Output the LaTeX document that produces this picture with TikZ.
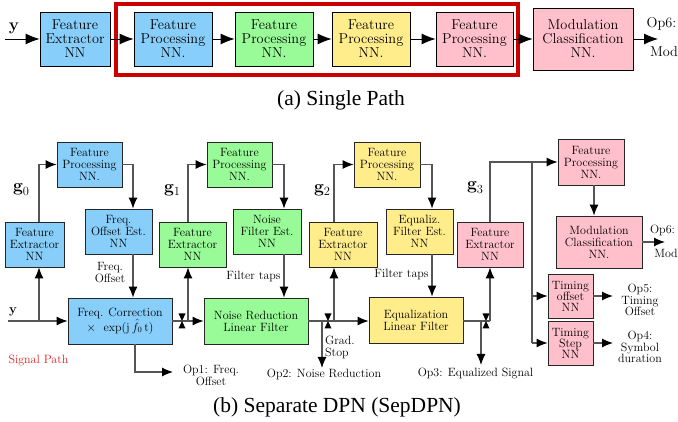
\documentclass[tikz,border=0pt]{standalone}
\usepackage{fontspec}
\newfontfamily\capfont{Liberation Serif}
\usetikzlibrary{arrows.meta,calc}
\definecolor{cblue}{RGB}{135,206,250}
\definecolor{cgreen}{RGB}{152,251,152}
\definecolor{cyell}{RGB}{255,236,139}
\definecolor{cpink}{RGB}{255,192,203}
\definecolor{cred}{RGB}{204,0,0}
\definecolor{sigred}{RGB}{225,30,30}
\definecolor{lgray}{RGB}{85,85,85}
\newcommand\gsub[1]{{\bfseries g}\raisebox{-0.22em}{\fontsize{12.5}{12.5}\selectfont #1}}
\begin{document}
\begin{tikzpicture}[x=1pt,y=-1pt,
 tbox/.style={draw=black, line width=0.8pt, inner sep=0pt, align=center, font=\fontsize{14.3}{14}\selectfont, minimum height=54pt},
 bbox/.style={draw=black!85, line width=0.8pt, inner sep=0pt, align=center, font=\fontsize{12}{12}\selectfont, minimum height=45pt},
 tarr/.style={draw=black, line width=0.8pt, -{Latex[length=14pt,width=11pt]}},
 barr/.style={draw=lgray, line width=1.1pt, -{Latex[length=11pt,width=9pt,color=black]}},
 bline/.style={draw=lgray, line width=1.1pt},
 lbl/.style={inner sep=0pt, align=center, font=\fontsize{12}{11.5}\selectfont},
 tlbl/.style={inner sep=0pt, align=center, font=\fontsize{14.3}{14}\selectfont},
 glbl/.style={inner sep=0pt, font=\fontsize{17.5}{17.5}\selectfont},
 captxt/.style={inner sep=0pt, font=\capfont\fontsize{21.5}{24}\selectfont},
 gstop/.pic={\fill[black] (-3.5,-7.5) -- (3.5,-7.5) -- (0,0) -- cycle;
             \fill[black] (-3.5,7.5) -- (3.5,7.5) -- (0,0) -- cycle;}
]
\useasboundingbox (0,0) rectangle (678,422);

% ---------- (a) Single path ----------
\node[tbox, fill=cblue, minimum width=70pt] (tFE) at (75,39) {Feature\\Extractor\\NN};
\node[tbox, fill=cblue, minimum width=78pt] (tP1) at (173,39) {Feature\\Processing\\NN.};
\node[tbox, fill=cgreen, minimum width=78pt] (tP2) at (274,39) {Feature\\Processing\\NN.};
\node[tbox, fill=cyell, minimum width=78pt] (tP3) at (371,39) {Feature\\Processing\\NN.};
\node[tbox, fill=cpink, minimum width=77pt] (tP4) at (474.5,39) {Feature\\Processing\\NN.};
\node[tbox, fill=cpink, minimum width=100pt, minimum height=62pt] (tMC) at (583,39) {Modulation\\Classification\\NN.};
\draw[cred, line width=4pt] (116,3.7) rectangle (517.5,75);
\coordinate (tin) at (5,39);
\coordinate (tout) at (658,39);
\node[inner sep=0pt, font=\fontsize{17}{17}\selectfont\bfseries] (ty) at (14,28) {y};
\draw[tarr] (tin) -- (tFE);
\draw[tarr] (tFE) -- (tP1);
\draw[tarr] (tP1) -- (tP2);
\draw[tarr] (tP2) -- (tP3);
\draw[tarr] (tP3) -- (tP4);
\draw[tarr] (tP4) -- (tMC);
\draw[tarr] (tMC) -- (tout);
\node[tlbl] (top6) at (661.5,24) {Op6:};
\node[tlbl] (tmod) at (664,52) {Mod};
\node[captxt] (capa) at (341,100) {(a) Single Path};

% ---------- (b) SepDPN ----------
\node[bbox, fill=cblue, minimum width=59pt] (FE0) at (34.5,244.5) {Feature\\Extractor\\NN};
\node[bbox, fill=cblue, minimum width=65pt] (FP0) at (89.5,164.5) {Feature\\Processing\\NN.};
\node[bbox, fill=cblue, minimum width=67pt] (FOE) at (118.5,231.5) {Freq.\\Offset Est.\\NN};
\node[bbox, fill=cblue, minimum width=104pt, minimum height=46pt] (FC) at (120,321) {Freq. Correction\\$\times$\ \ exp(j\,$\hat{f}_0$\,t)};

\node[bbox, fill=cgreen, minimum width=67pt] (FE1) at (192.5,244.5) {Feature\\Extractor\\NN};
\node[bbox, fill=cgreen, minimum width=65pt] (FP1) at (239.5,164.5) {Feature\\Processing\\NN.};
\node[bbox, fill=cgreen, minimum width=68pt] (NFE) at (267,231.5) {Noise\\Filter Est.\\NN};
\node[bbox, fill=cgreen, minimum width=104pt, minimum height=46pt] (NRLF) at (256,321) {Noise Reduction\\Linear Filter};

\node[bbox, fill=cyell, minimum width=68pt] (FE2) at (343,244.5) {Feature\\Extractor\\NN};
\node[bbox, fill=cyell, minimum width=66pt] (FP2) at (387,164.5) {Feature\\Processing\\NN.};
\node[bbox, fill=cyell, minimum width=67pt] (EFE) at (419.5,231.5) {Equaliz.\\Filter Est.\\NN};
\node[bbox, fill=cyell, minimum width=94pt, minimum height=46pt] (ELF) at (416,320) {Equalization\\Linear Filter};

\node[bbox, fill=cpink, minimum width=66pt] (FE3) at (490,244.5) {Feature\\Extractor\\NN};
\node[bbox, fill=cpink, minimum width=66pt, minimum height=46pt] (FP3) at (591,162) {Feature\\Processing\\NN.};
\node[bbox, fill=cpink, minimum width=86pt, minimum height=52pt] (MC) at (599,242) {Modulation\\Classification\\NN.};
\node[bbox, fill=cpink, minimum width=45pt, minimum height=44pt, font=\fontsize{12}{11}\selectfont] (TO) at (570.5,296) {Timing\\offset\\NN};
\node[bbox, fill=cpink, minimum width=45pt, minimum height=44pt, font=\fontsize{12}{11}\selectfont] (TS) at (570.5,343) {Timing\\Step\\NN};

% labels
\node[glbl] (g0) at (21,190) {\gsub{0}};
\node[glbl] (g1) at (172,190) {\gsub{1}};
\node[glbl] (g2) at (322,190) {\gsub{2}};
\node[glbl] (g3) at (475,188) {\gsub{3}};
\node[inner sep=0pt, font=\fontsize{13}{13}\selectfont\bfseries] (by) at (13,312) {y};
\node[lbl, text=sigred] (sp) at (38.5,361) {Signal Path};
\node[lbl] (fo) at (110,272.5) {Freq.\\Offset};
\node[lbl] (ft1) at (253.5,277) {Filter taps};
\node[lbl] (ft2) at (401.5,275) {Filter taps};
\node[lbl] (op1) at (211,375.5) {Op1: Freq.\\Offset};
\node[lbl] (op2) at (324,374) {Op2: Noise Reduction};
\node[lbl] (op3) at (475.5,374) {Op3: Equalized Signal};
\node[lbl, anchor=west, align=left] (gs) at (325,347.5) {Grad.\\Stop};
\node[lbl] (op6) at (662.5,230) {Op6:};
\node[lbl] (mod) at (666,253) {Mod};
\node[lbl] (op5) at (640,300) {Op5:\\Timing\\Offset};
\node[lbl] (op4) at (640,347) {Op4:\\Symbol\\duration};
\node[captxt] (capb) at (337,407) {(b) Separate DPN (SepDPN)};

% coordinates
\coordinate (yin) at (8,321);
\coordinate (j0) at (39,321);
\coordinate (c0) at (133,0);
\coordinate (o1) at (135,0);
\coordinate (op1e) at (173,372);
\coordinate (j1) at (188,321);
\coordinate (c1) at (284,0);
\coordinate (d2) at (322,321);
\coordinate (op2e) at (322,368);
\coordinate (j2) at (334,321);
\coordinate (c2) at (432,0);
\coordinate (d3) at (481,321);
\coordinate (op3e) at (481,365);
\coordinate (j3) at (490,321);
\coordinate (k) at (532,0);
\coordinate (c4) at (594,0);
\coordinate (mcout) at (665,242);
\coordinate (toout) at (613,296);
\coordinate (tsout) at (613,343);

% connectors
\draw[barr] (yin) -- (FC.west);
\draw[barr] (j0) -- (j0 |- FE0.south);
\draw[barr] (j0 |- FE0.north) |- (FP0.west);
\draw[barr] (FP0.east) -| (c0 |- FOE.north);
\draw[barr] (c0 |- FOE.south) -- (c0 |- FC.north);
\draw[barr] (o1 |- FC.south) |- (op1e);
\draw[barr] (FC) -- (NRLF);
\pic at (182,321) {gstop};
\draw[barr] (j1) -- (j1 |- FE1.south);
\draw[barr] (j1 |- FE1.north) |- (FP1.west);
\draw[barr] (FP1.east) -| (c1 |- NFE.north);
\draw[barr] (c1 |- NFE.south) -- (c1 |- NRLF.north);
\draw[barr] (NRLF.east) -- (NRLF.east -| ELF.west);
\draw[barr] (d2) -- (op2e);
\pic at (328,321) {gstop};
\draw[barr] (j2) -- (j2 |- FE2.south);
\draw[barr] (j2 |- FE2.north) |- (FP2.west);
\draw[barr] (FP2.east) -| (c2 |- EFE.north);
\draw[barr] (c2 |- EFE.south) -- (c2 |- ELF.north);
\draw[bline] (ELF.east |- j3) -- (j3);
\draw[barr] (d3) -- (op3e);
\pic at (486,321) {gstop};
\draw[barr] (j3) -- (j3 |- FE3.south);
\draw[barr] (j3 |- FE3.north) |- (FP3.west);
\draw[bline] (k |- FP3.west) -- (k |- TS.west);
\draw[barr] (k |- TO.west) -- (TO.west);
\draw[barr] (k |- TS.west) -- (TS.west);
\draw[barr] (c4 |- FP3.south) -- (c4 |- MC.north);
\draw[barr] (MC) -- (mcout);
\draw[barr] (TO) -- (toout);
\draw[barr] (TS) -- (tsout);
\end{tikzpicture}
\end{document}
